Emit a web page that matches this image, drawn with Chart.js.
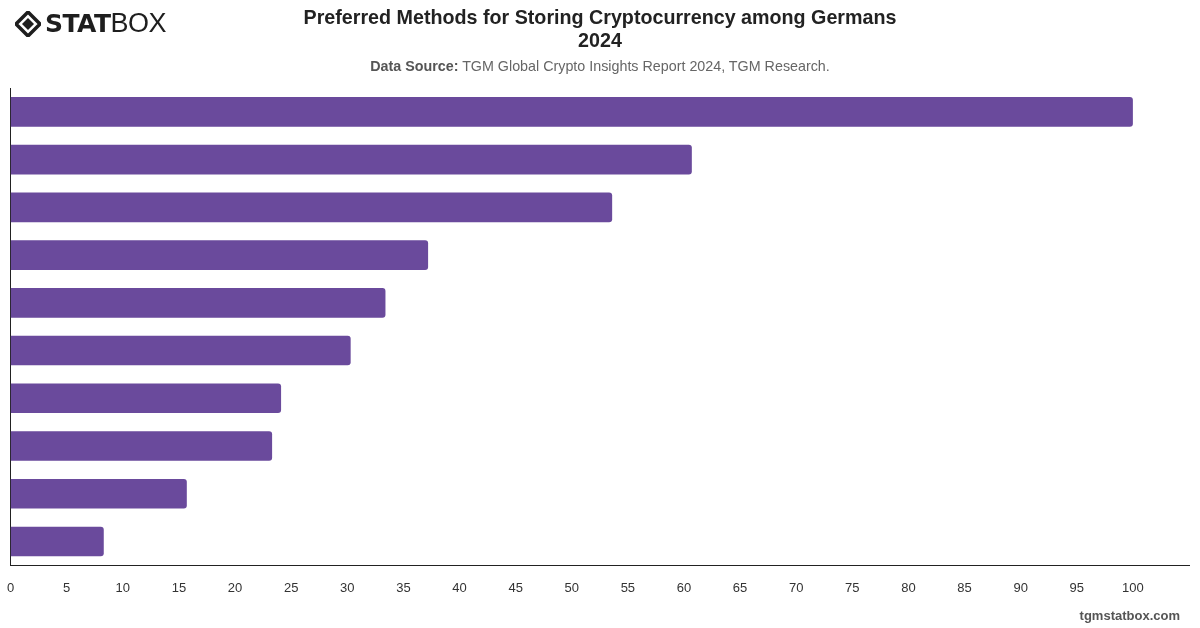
<!DOCTYPE html>
<html>
<head>
<meta charset="utf-8">
<script src="https://cdn.jsdelivr.net/npm/chart.js@4"></script>
<style>
    body { margin: 0; width: 1200px; height: 628px; background: #fff; font-family: "Liberation Sans", Arial, sans-serif; overflow: hidden; }
    #wrap { position: absolute; left: 0; top: 0; width: 1200px; height: 628px; }
    #logo { position: absolute; left: 15px; top: 8px; display: flex; align-items: center; }
    #logo .stat { font-family: "DejaVu Sans", sans-serif; font-weight: 900; font-size: 25px; color: #1e1e1e; letter-spacing: -0.5px; margin-left: 4px; }
    #logo .box { font-family: "Liberation Sans", Arial, sans-serif; font-weight: 400; font-size: 27px; color: #1e1e1e; letter-spacing: -0.5px; }
    #title { position: absolute; left: 0; top: 6px; width: 1200px; text-align: center; font-weight: bold; font-size: 19.7px; line-height: 23px; color: #222; }
    #source { position: absolute; left: 0; top: 58px; width: 1200px; text-align: center; font-size: 14.3px; color: #666; }
    #source b { color: #555; }
    #footer { position: absolute; right: 20px; top: 608px; font-size: 13px; font-weight: bold; color: #555; }
    canvas { position: absolute; left: 0; top: 0; }
</style>
</head>
<body>
<div id="wrap">
    <canvas id="graphique" width="1200" height="628"></canvas>
    <div id="logo">
        <svg width="26" height="26" viewBox="0 0 26 26">
            <path d="M13 1 L25 13 L13 25 L1 13 Z" fill="none" stroke="#1e1e1e" stroke-width="3.5"/>
            <path d="M13 7 L19 13 L13 19 L7 13 Z" fill="#1e1e1e"/>
        </svg>
        <span class="stat">STAT</span><span class="box">BOX</span>
    </div>
    <div id="title">Preferred Methods for Storing Cryptocurrency among Germans<br>2024</div>
    <div id="source"><b>Data Source:</b> TGM Global Crypto Insights Report 2024, TGM Research.</div>
    <div id="footer">tgmstatbox.com</div>
</div>
<script>
const labels = [
    "Crypto exchange account",
    "Hardware wallet",
    "Mobile wallet app",
    "Desktop wallet",
    "Bank or broker custody",
    "Web wallet",
    "Paper wallet",
    "Crypto ATM / card",
    "Other",
    "Don't know"
];
const valeurs = [100, 60.7, 53.6, 37.2, 33.4, 30.3, 24.1, 23.3, 15.7, 8.3];
const ticksX = [0, 5, 10, 15, 20, 25, 30, 35, 40, 45, 50, 55, 60, 65, 70, 75, 80, 85, 90, 95, 100];

const data = {
    labels: labels,
    datasets: [{
        label: "Share of respondents",
        data: valeurs,
        backgroundColor: "#6A4A9C",
        borderRadius: 3,
        borderSkipped: "start",
        categoryPercentage: 0.62,
        barPercentage: 1,
    }]
};

const config = {
    type: "bar",
    data: data,
    options: {
        indexAxis: "y",
        responsive: false,
        animation: false,
        layout: { padding: { top: 88, left: 2, right: 11, bottom: 25 } },
        plugins: {
            legend: { display: false },
            tooltip: { enabled: false },
        },
        scales: {
            x: {
                min: 0,
                max: 105,
                grid: { display: false },
                border: { display: true, color: "#222", width: 1 },
                afterBuildTicks: (axis) => {
                    axis.ticks = ticksX.map(v => ({ value: v }));
                },
                ticks: {
                    color: "#333",
                    padding: 7,
                    font: { family: "'Liberation Sans', Arial, sans-serif", size: 13 },
                },
            },
            y: {
                grid: { display: false },
                border: { display: true, color: "#222", width: 1 },
                ticks: { display: false },
            },
        },
    },
};

const graph = new Chart(document.querySelector("#graphique"), config);
</script>
</body>
</html>
